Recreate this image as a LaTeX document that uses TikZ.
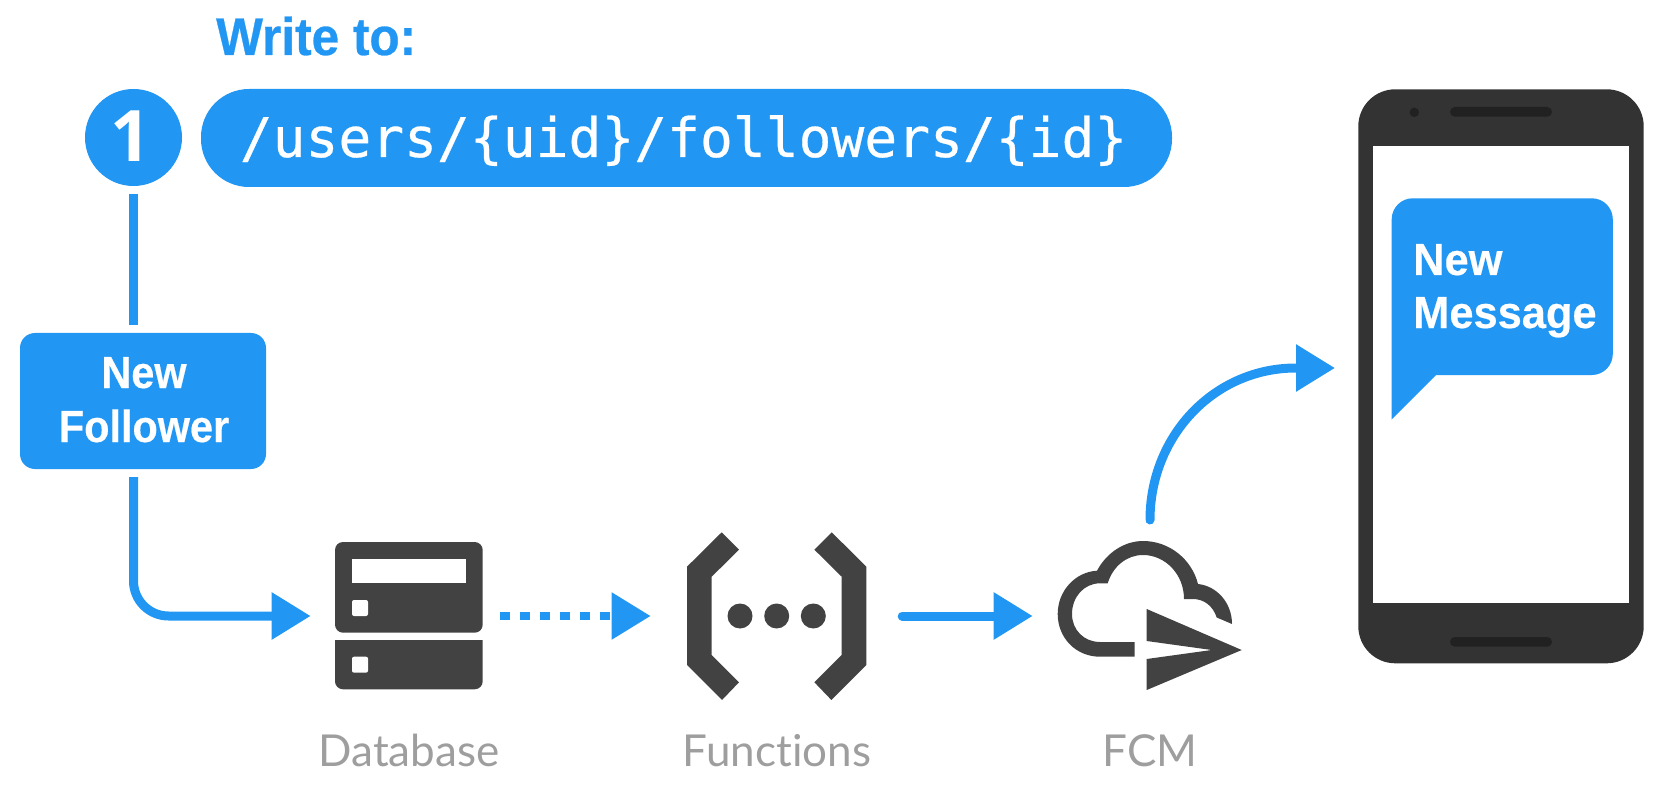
\documentclass[tikz,border=0pt]{standalone}
\usepackage{fontspec}
\usetikzlibrary{arrows.meta}
\setmainfont{Liberation Sans}
\newfontfamily\headfont[FakeStretch=0.935,FakeBold=0.5]{Liberation Sans}
\newfontfamily\followfont[FakeStretch=0.92,FakeBold=0.4]{Liberation Sans}
\newfontfamily\msgfont[FakeStretch=0.965,FakeBold=0.4]{Liberation Sans}
\newfontfamily\stepfont{Open Sans}
\newfontfamily\monofont[FakeBold=0.5]{DejaVu Sans Mono}
\newfontfamily\labelfont[Ligatures=NoCommon]{Lato}
\definecolor{fbblue}{HTML}{2196F3}
\definecolor{icondark}{HTML}{424242}
\definecolor{labelgray}{HTML}{9E9E9E}
\definecolor{phonebody}{HTML}{333333}
\definecolor{phonedark}{HTML}{212121}
\tikzset{
  flow/.style={draw=fbblue,line width=9pt},
  bigtip/.style={-{Triangle[length=39pt,width=45pt,fill=fbblue]}},
  bluebox/.style={fill=fbblue,text=white,inner sep=0pt},
  iconarea/.style={inner sep=0pt,outer sep=0pt},
  iconfill/.style={fill=icondark,draw=none},
  caption/.style={inner sep=0pt,anchor=base,text=labelgray,font=\labelfont\fontsize{44}{50}\selectfont},
  followtext/.style={font=\followfont\bfseries\fontsize{45}{54}\selectfont},
  msgtext/.style={font=\msgfont\bfseries\fontsize{45}{54}\selectfont},
}
\begin{document}
\begin{tikzpicture}[x=1pt,y=-1pt]
\useasboundingbox (0,0) rectangle (1668,786);
% heading
\node[inner sep=0pt,anchor=base west,text=fbblue,font=\headfont\bfseries\fontsize{53}{60}\selectfont] (writeto) at (216,55) {Write to:};
% step
\node[circle,bluebox,minimum size=97pt] (one) at (133.5,137.5) {};
\node[inner sep=0pt,anchor=base,text=white,font=\stepfont\bfseries\fontsize{71}{71}\selectfont] (onetext) at (131,161.7) {1};
% path pill
\node[bluebox,rounded corners=48pt,minimum width=971pt,minimum height=98pt] (pill) at (686.5,138) {};
\node[inner sep=0pt,anchor=base,text=white,font=\monofont\fontsize{54.6}{60}\selectfont] (pathtext) at (683.6,157) {/users/\{uid\}/followers/\{id\}};
% new follower
\node[bluebox,rounded corners=15pt,minimum width=246pt,minimum height=136pt] (follower) at (143,401) {};
\node[inner sep=0pt,anchor=base,text=white,followtext] (followerA) at (144,388) {New};
\node[inner sep=0pt,anchor=base,text=white,followtext] (followerB) at (144,442) {Follower};
% database
\node[iconarea,minimum width=148pt,minimum height=147.5pt] (database) at (409,615.7) {};
\fill[icondark,rounded corners=8pt] (335,542) rectangle (482.7,632.7);
\fill[white] (352,559) rectangle (465.7,583);
\fill[white,rounded corners=2pt] (352,600) rectangle (368,616);
\fill[icondark,rounded corners=8pt] (335,660) -- (335,689.3) -- (482.7,689.3) -- (482.7,660) [sharp corners] -- (482.7,640) -- (335,640) -- cycle;
\fill[white,rounded corners=2pt] (352,656.7) rectangle (368,672.7);
% functions
\node[iconarea,minimum width=180pt,minimum height=168pt] (functions) at (776.7,616) {};
\fill[iconfill] (721.7,532.3) -- (739,549.7) -- (711.7,576.7) -- (711.7,655) -- (739,682.3) -- (722,700) -- (687,665) -- (687,566.7) -- cycle;
\fill[iconfill] (831.7,532.3) -- (814.4,549.7) -- (841.7,576.7) -- (841.7,655) -- (814.4,682.3) -- (831.4,700) -- (866.4,665) -- (866.4,566.7) -- cycle;
\fill[icondark] (740,616) circle (12.5);
\fill[icondark] (776.7,616) circle (12.5);
\fill[icondark] (813.3,616) circle (12.5);
% fcm
\node[iconarea,minimum width=184pt,minimum height=149pt] (fcm) at (1149.7,615.5) {};
\fill[iconfill] (1134.7,642) -- (1134.7,656.7) -- (1100,656.7)
  .. controls (1076,656.7) and (1057.7,638) .. (1057.7,614)
  .. controls (1057.7,591) and (1075,572) .. (1097,570.7)
  .. controls (1107,552) and (1125,541) .. (1143,541)
  .. controls (1170,541) and (1192,560) .. (1198,584)
  .. controls (1217,586) and (1232,603) .. (1232,624)
  -- (1216.7,617.5)
  .. controls (1213,606) and (1204,599) .. (1193,599)
  -- (1184,599)
  .. controls (1184,574) and (1165,555) .. (1143,555)
  .. controls (1127,555) and (1113,566) .. (1107.7,583.3)
  -- (1100,583.3)
  .. controls (1084,583.3) and (1072,597) .. (1072,614)
  .. controls (1072,630) and (1084,642) .. (1100,642) -- cycle;
\fill[iconfill] (1146.7,609) -- (1241.7,650) -- (1211.7,650) -- (1146.7,641) -- cycle;
\fill[iconfill] (1146.7,690) -- (1241.7,650) -- (1211.7,650) -- (1146.7,659) -- cycle;
% captions
\node[caption] (dbcap) at (409,766) {Database};
\node[caption] (fncap) at (777,766) {Functions};
\node[caption] (fcmcap) at (1150,766) {FCM};
% phone
\node[fill=phonebody,rounded corners=37pt,inner sep=0pt,minimum width=285.4pt,minimum height=574pt] (phone) at (1501,376.3) {};
\node[fill=white,inner sep=0pt,minimum width=255.4pt,minimum height=456.7pt] (screen) at (1501,374.3) {};
\fill[phonedark] (1414.3,112.3) circle (4.7);
\fill[phonedark,rounded corners=4.8pt] (1450,107) rectangle (1552,116.7);
\fill[phonedark,rounded corners=4.8pt] (1450,637) rectangle (1552,646.7);
% bubble
\fill[fbblue] (1391.7,419.3) -- (1391.7,219.3) arc[start angle=180,end angle=270,radius=21] -- (1591.8,198.3) arc[start angle=270,end angle=360,radius=21] -- (1612.8,354) arc[start angle=0,end angle=90,radius=21] -- (1436,375) -- cycle;
\node[inner sep=0pt,anchor=base west,text=white,msgtext] (msgA) at (1413,275) {New};
\node[inner sep=0pt,anchor=base west,text=white,msgtext] (msgB) at (1413,328) {Message};
% connectors
\draw[flow] (one.south) ++(0,8) -- (133.5,325);
\draw[flow,bigtip,rounded corners=35pt,shorten >=24.3pt] (133.5,477) -- (133.5,616) -- (database.west |- 0,616);
\draw[flow,bigtip,line width=8.5pt,dash pattern=on 10pt off 10pt,shorten <=17.3pt,shorten >=36pt] (database.east |- 0,616) -- (functions.west |- 0,616);
\draw[flow,bigtip,line cap=round,shorten <=35.5pt,shorten >=25pt] (functions.east |- 0,616) -- (fcm.west |- 0,616);
\coordinate (msgin) at (1358.3,368);
\draw[flow,bigtip,line cap=round,shorten <=21pt,shorten >=23.3pt] (fcm.north) -- (1150,520) .. controls (1150,436) and (1214,368) .. (1296,368) -- (msgin);
\end{tikzpicture}
\end{document}
